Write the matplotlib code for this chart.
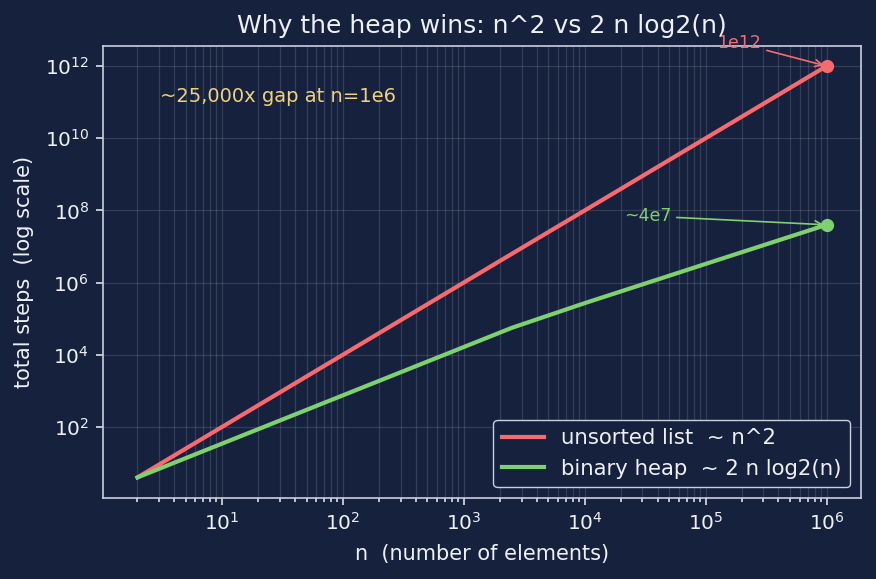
import matplotlib
matplotlib.use("Agg")
import matplotlib.pyplot as plt

# values
n_values = [2, 2500, 10000, 100000, 1000000]
list_steps = [4, 6.3e6, 1e8, 1e10, 1e12]
heap_steps = [4, 5.6e4, 2.7e5, 3.3e6, 4.0e7]

BG = "#16213e"
FG = "#eef1f7"
RED = "#f96a6e"
GREEN = "#7fd16f"
YELLOW = "#f0d27c"

fig = plt.figure(figsize=(8.76, 5.79), dpi=100, facecolor=BG)
ax = fig.add_axes([0.1176, 0.1399, 0.8653, 0.7815], facecolor=BG)

ax.plot(n_values, list_steps, color=RED, lw=3, label="unsorted list  ~ n^2")
ax.plot(n_values, heap_steps, color=GREEN, lw=3, label="binary heap  ~ 2 n log2(n)")
ax.plot(n_values[-1], list_steps[-1], "o", color=RED, ms=8.5)
ax.plot(n_values[-1], heap_steps[-1], "o", color=GREEN, ms=8.5)

ax.set_xscale("log")
ax.set_yscale("log")
ax.grid(True, which="both", color="white", alpha=0.13, lw=0.9)

ax.annotate("1e12", xy=(n_values[-1], list_steps[-1]), xytext=(1.9e5, 4.3e12),
            color=RED, fontsize=12.5, ha="center", va="center",
            arrowprops=dict(arrowstyle="->", color=RED, lw=1.2))
ax.annotate("~4e7", xy=(n_values[-1], heap_steps[-1]), xytext=(3.3e4, 7.0e7),
            color=GREEN, fontsize=12.5, ha="center", va="center",
            arrowprops=dict(arrowstyle="->", color=GREEN, lw=1.2))
ax.text(0.075, 0.888, "~25,000x gap at n=1e6", transform=ax.transAxes,
        color=YELLOW, fontsize=14, ha="left", va="center")

ax.set_title("Why the heap wins: n^2 vs 2 n log2(n)", color=FG, fontsize=18, pad=9)
ax.set_xlabel("n  (number of elements)", color=FG, fontsize=15, labelpad=7)
ax.set_ylabel("total steps  (log scale)", color=FG, fontsize=15, labelpad=8)
ax.tick_params(colors=FG, which="both", labelsize=14.4, width=1.1)
ax.tick_params(which="major", length=5, pad=5)
ax.tick_params(which="minor", length=2.9)
for s in ax.spines.values():
    s.set_color("#c9d0de")
    s.set_linewidth(1.2)

leg = ax.legend(loc="lower right", fontsize=15.3, facecolor=BG, edgecolor="#c9d0de",
                framealpha=1)
for t in leg.get_texts():
    t.set_color(FG)

fig.savefig("out.png", dpi=100, facecolor=BG)
